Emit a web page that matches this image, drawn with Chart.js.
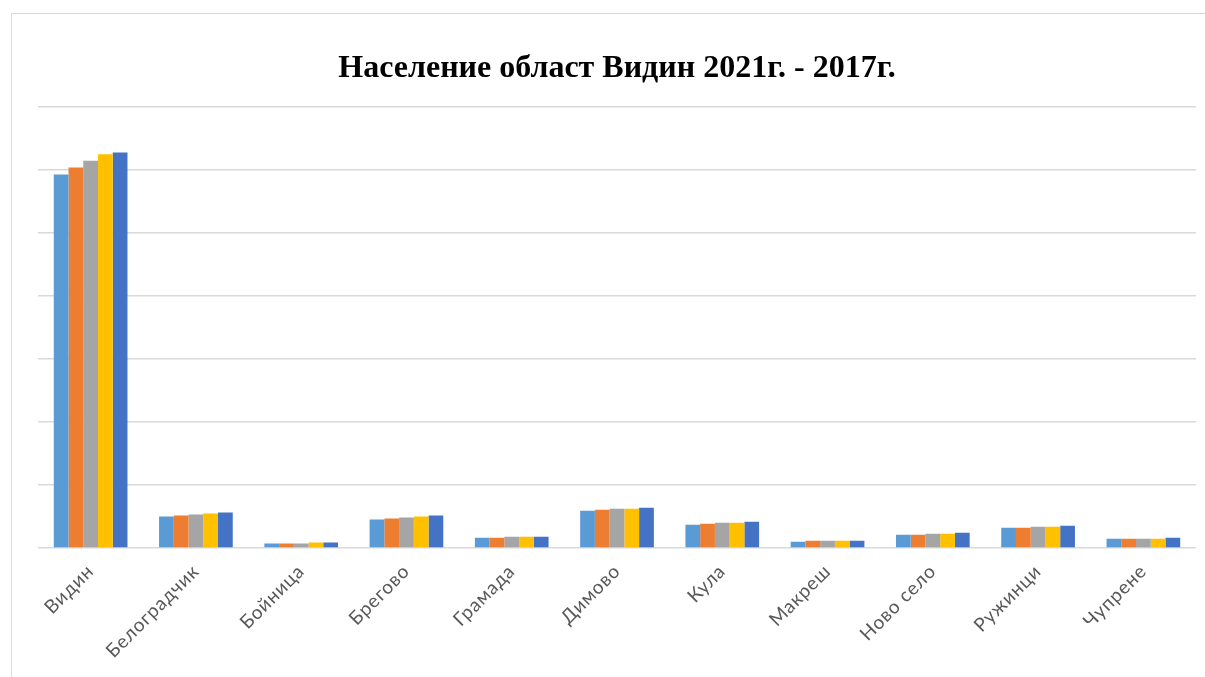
<!DOCTYPE html>
<html>
<head>
<meta charset="utf-8">
<script src="https://cdn.jsdelivr.net/npm/chart.js@4.4.0/dist/chart.umd.min.js"></script>
<style>
  html, body { margin: 0; padding: 0; background: #ffffff; }
  #wrap { position: relative; width: 1205px; height: 677px; overflow: hidden; }
  #frame { position: absolute; left: 11px; top: 13px; width: 1200px; height: 700px; border: 1px solid #d9d9d9; box-sizing: border-box; }
  #c { position: absolute; left: 0; top: 0; }
</style>
</head>
<body>
<div id="wrap">
  <div id="frame"></div>
  <canvas id="c" width="1205" height="677"></canvas>
</div>
<script>
const categories = ["Видин", "Белоградчик", "Бойница", "Брегово", "Грамада", "Димово", "Кула", "Макреш", "Ново село", "Ружинци", "Чупрене"];
const seriesNames = ["2021", "2020", "2019", "2018", "2017"];
const values2021 = [59200, 4990, 710, 4510, 1630, 5910, 3700, 1000, 2110, 3220, 1480];
const values2020 = [60300, 5150, 710, 4670, 1630, 6070, 3850, 1160, 2110, 3220, 1480];
const values2019 = [61400, 5310, 710, 4830, 1790, 6230, 4010, 1160, 2270, 3380, 1480];
const values2018 = [62400, 5460, 870, 4990, 1790, 6230, 4010, 1160, 2270, 3380, 1480];
const values2017 = [62700, 5620, 870, 5150, 1790, 6390, 4170, 1160, 2430, 3540, 1640];
const colors = ["#5B9BD5", "#ED7D31", "#A5A5A5", "#FFC000", "#4472C4"];
const titleText = "Население област Видин 2021г. - 2017г.";

const allValues = [values2021, values2020, values2019, values2018, values2017];

const chart = new Chart(document.getElementById('c'), {
  type: 'bar',
  data: {
    labels: categories,
    datasets: allValues.map((v, i) => ({
      label: seriesNames[i],
      data: v,
      backgroundColor: colors[i],
      borderWidth: 0,
      categoryPercentage: 0.7,
      barPercentage: 1.0
    }))
  },
  options: {
    responsive: false,
    animation: false,
    layout: { padding: { left: 38, right: 9, top: 0, bottom: 0 } },
    plugins: {
      legend: { display: false },
      tooltip: { enabled: false },
      title: {
        display: true,
        text: titleText,
        color: '#000000',
        font: { family: '"Liberation Serif", "Times New Roman", serif', size: 32, weight: 'bold', lineHeight: 1.2 },
        padding: { top: 50, bottom: 18 }
      }
    },
    scales: {
      x: {
        grid: { display: false },
        border: { display: false },
        ticks: {
          color: '#595959',
          font: { family: 'Lato, sans-serif', size: 19 },
          maxRotation: 45,
          minRotation: 45,
          padding: 4,
          autoSkip: false
        },
        afterFit: (axis) => { axis.height = 129; }
      },
      y: {
        min: 0,
        max: 70000,
        ticks: { display: false, stepSize: 10000 },
        border: { display: false },
        grid: { color: '#d9d9d9', lineWidth: 1.5, drawTicks: false },
        afterFit: (axis) => { axis.width = 0; }
      }
    }
  }
});

// letter spacing only for the category labels
const xScale = chart.scales.x;
const origDrawLabels = xScale.drawLabels.bind(xScale);
xScale.drawLabels = function (area) {
  const ctx = this.ctx;
  const prev = ctx.letterSpacing;
  ctx.letterSpacing = '0.8px';
  origDrawLabels(area);
  ctx.letterSpacing = prev || '0px';
};
chart.draw();
</script>
</body>
</html>
